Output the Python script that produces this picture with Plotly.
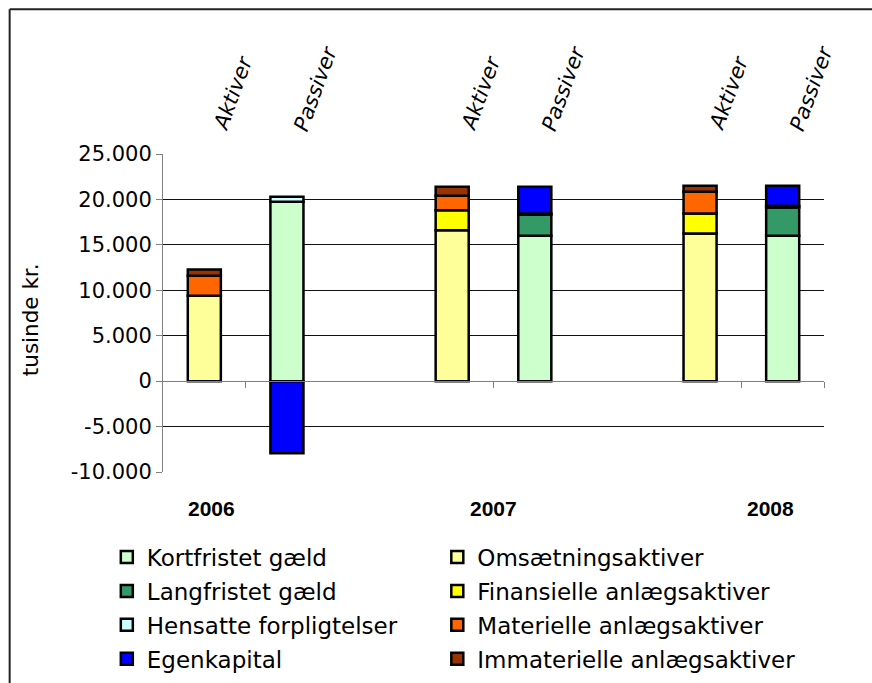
import plotly.graph_objects as go

# ---- data (tusinde kr.) ----
years = ["2006", "2007", "2008"]
side_labels = ["Aktiver", "Passiver"]

omsaetningsaktiver = [9400, 16600, 16250]
finansielle_anlaeg = [0, 2200, 2200]
materielle_anlaeg = [2200, 1600, 2400]
immaterielle_anlaeg = [700, 1000, 650]

kortfristet_gaeld = [19750, 16000, 16000]
langfristet_gaeld = [0, 2300, 3100]
hensatte_forpligtelser = [550, 150, 200]
egenkapital = [-7950, 2950, 2200]

y_tick_vals = [-10000, -5000, 0, 5000, 10000, 15000, 20000, 25000]
y_tick_text = ["-10.000", "-5.000", "0", "5.000", "10.000", "15.000", "20.000", "25.000"]

# ---- layout helpers ----
aktiv_x = [3 * i for i in range(len(years))]
passiv_x = [3 * i + 1 for i in range(len(years))]
last_x = passiv_x[-1]
y_min, y_max = y_tick_vals[0], y_tick_vals[-1]

FONT = "DejaVu Sans"
BORDER = dict(color="#000000", width=2.5)

fig = go.Figure()

passiv_series = [
    ("Kortfristet gæld", kortfristet_gaeld, "#CCFFCC"),
    ("Langfristet gæld", langfristet_gaeld, "#339966"),
    ("Hensatte forpligtelser", hensatte_forpligtelser, "#CCFFFF"),
    ("Egenkapital", egenkapital, "#0000FF"),
]
aktiv_series = [
    ("Omsætningsaktiver", omsaetningsaktiver, "#FFFF99"),
    ("Finansielle anlægsaktiver", finansielle_anlaeg, "#FFFF00"),
    ("Materielle anlægsaktiver", materielle_anlaeg, "#FF6600"),
    ("Immaterielle anlægsaktiver", immaterielle_anlaeg, "#993300"),
]

for name, vals, col in passiv_series:
    fig.add_trace(go.Bar(x=passiv_x, y=vals, name=name, width=0.4,
                         marker=dict(color=col, line=BORDER),
                         legend="legend", legendgroup=name))
for name, vals, col in aktiv_series:
    fig.add_trace(go.Bar(x=aktiv_x, y=vals, name=name, width=0.4,
                         marker=dict(color=col, line=BORDER),
                         legend="legend2", legendgroup=name))

zero_pos = (0 - y_min) / (y_max - y_min)

# rotated Aktiver / Passiver labels above each bar
for i in range(len(years)):
    for xx, lab in ((aktiv_x[i], side_labels[0]), (passiv_x[i], side_labels[1])):
        fig.add_annotation(x=xx, xref="x", y=1.055, yref="paper",
                           text=f"<i>{lab}</i>", showarrow=False,
                           textangle=-70, xanchor="center", yanchor="bottom",
                           xshift=29, font=dict(family=FONT, size=21, color="#000"))

# year labels below axis
year_x = [0.09, 3.5, 6.85]
for yx, yr in zip(year_x, years):
    fig.add_annotation(x=yx, xref="x", y=-0.116, yref="paper", text=f"<b>{yr}</b>",
                       showarrow=False, xanchor="center", yanchor="middle",
                       font=dict(family="Liberation Sans", size=21, color="#000"))

# y axis title
fig.add_annotation(x=-0.2, xref="paper", y=0.48, yref="paper", text="tusinde kr.",
                   showarrow=False, textangle=-90, xanchor="center", yanchor="middle",
                   font=dict(family=FONT, size=21.5, color="#000"))

# outer chart frame (top and left edges visible)
frame = dict(color="#222222", width=2)
fig.add_shape(type="line", xref="paper", yref="paper", x0=-0.232, x1=1.2, y0=1.455, y1=1.455,
              line=frame, layer="below")
fig.add_shape(type="line", xref="paper", yref="paper", x0=-0.232, x1=-0.232, y0=-1.0, y1=1.455,
              line=frame, layer="below")

legend_common = dict(orientation="v", yanchor="top", xanchor="left",
                     font=dict(family=FONT, size=23, color="#000"),
                     bgcolor="rgba(0,0,0,0)", traceorder="grouped", tracegroupgap=1,
                     itemclick=False, itemdoubleclick=False)

fig.update_layout(
    width=872, height=683,
    margin=dict(l=163, r=48, t=154, b=211, autoexpand=False),
    paper_bgcolor="white", plot_bgcolor="white",
    barmode="relative",
    showlegend=True,
    legend=dict(x=-0.085, y=-0.2, **legend_common),
    legend2=dict(x=0.415, y=-0.2, **legend_common),
    xaxis=dict(range=[-0.5, last_x + 0.5], anchor="free", position=zero_pos,
               showline=True, linecolor="#808080", linewidth=1,
               tickmode="array", tickvals=[0.5, 3.5, 6.5, last_x + 0.5],
               ticks="outside", ticklen=6, tickcolor="#808080",
               showticklabels=False, showgrid=False, zeroline=False, fixedrange=True),
    yaxis=dict(range=[y_min, y_max], tickmode="array",
               tickvals=y_tick_vals, ticktext=y_tick_text,
               showline=True, linecolor="#808080", linewidth=1,
               ticks="outside", ticklen=6, tickcolor="#808080",
               showgrid=True, gridcolor="#111111", gridwidth=1,
               zeroline=False,
               tickfont=dict(family=FONT, size=21, color="#000")),
    font=dict(family=FONT, color="#000"),
)

fig.write_html("out.html", config={"displayModeBar": False},
               post_script="document.body.style.margin='0';document.body.style.overflow='hidden';")
